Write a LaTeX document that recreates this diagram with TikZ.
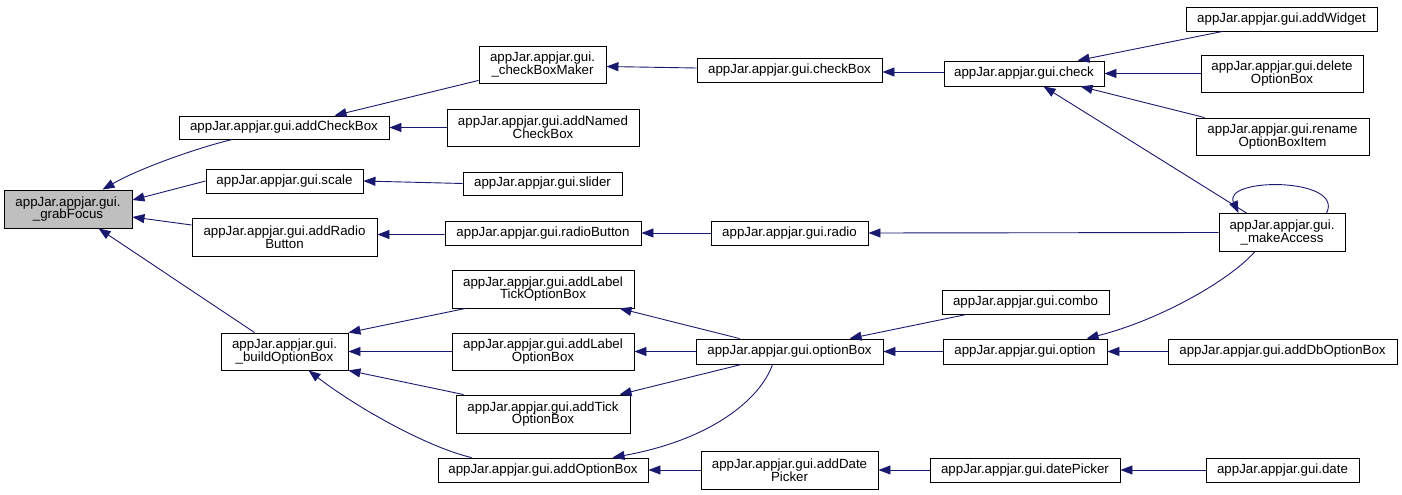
\documentclass[tikz,border=0pt]{standalone}
\usepackage{fontspec}
\setmainfont{Liberation Sans}
\usetikzlibrary{arrows.meta,calc}
\definecolor{edgeblue}{HTML}{191970}
\definecolor{focusgray}{HTML}{BFBFBF}
\begin{document}
\begin{tikzpicture}[x=1bp,y=-1bp,
  fn/.style={draw=black, line width=0.9bp, fill=white, inner sep=0pt, align=center,
    font=\fontsize{13.3bp}{12.6bp}\selectfont},
  call/.style={draw=edgeblue, line width=0.9bp, -{Triangle[length=12bp,width=9bp]}},
]
\useasboundingbox[fill=white] (0,0) rectangle (1402,495);

% function boxes, column by column
\node[fn, fill=focusgray, minimum width=128bp, minimum height=38bp] (grab) at (68,209) {appJar.appjar.gui.\\\_grabFocus};

\node[fn, minimum width=210bp, minimum height=23bp] (addcb) at (284,127.5) {appJar.appjar.gui.addCheckBox};
\node[fn, minimum width=157bp, minimum height=24bp] (scale) at (284.5,181) {appJar.appjar.gui.scale};
\node[fn, minimum width=185bp, minimum height=38bp] (addradio) at (284.5,237) {appJar.appjar.gui.addRadio\\Button};
\node[fn, minimum width=127bp, minimum height=37bp] (build) at (284.5,351.5) {appJar.appjar.gui.\\\_buildOptionBox};

\node[fn, minimum width=127bp, minimum height=37bp] (cbmaker) at (542.5,64.5) {appJar.appjar.gui.\\\_checkBoxMaker};
\node[fn, minimum width=192bp, minimum height=37bp] (namedcb) at (543,127.5) {appJar.appjar.gui.addNamed\\CheckBox};
\node[fn, minimum width=159bp, minimum height=23bp] (slider) at (542.5,183.5) {appJar.appjar.gui.slider};
\node[fn, minimum width=196bp, minimum height=24bp] (radiobtn) at (543,233) {appJar.appjar.gui.radioButton};
\node[fn, minimum width=182bp, minimum height=38bp] (labeltick) at (543,289) {appJar.appjar.gui.addLabel\\TickOptionBox};
\node[fn, minimum width=182bp, minimum height=37bp] (labelopt) at (543,351.5) {appJar.appjar.gui.addLabel\\OptionBox};
\node[fn, minimum width=174bp, minimum height=38bp] (tickopt) at (543,414) {appJar.appjar.gui.addTick\\OptionBox};
\node[fn, minimum width=210bp, minimum height=24bp] (addopt) at (543,470) {appJar.appjar.gui.addOptionBox};

\node[fn, minimum width=185bp, minimum height=24bp] (checkbox) at (789.5,70) {appJar.appjar.gui.checkBox};
\node[fn, minimum width=157bp, minimum height=24bp] (radio) at (789.5,233) {appJar.appjar.gui.radio};
\node[fn, minimum width=187bp, minimum height=25bp] (optbox) at (789.5,351.5) {appJar.appjar.gui.optionBox};
\node[fn, minimum width=177bp, minimum height=38bp] (adddate) at (789.5,470) {appJar.appjar.gui.addDate\\Picker};

\node[fn, minimum width=160bp, minimum height=25bp] (check) at (1024,73.5) {appJar.appjar.gui.check};
\node[fn, minimum width=167bp, minimum height=24bp] (combo) at (1025.5,302) {appJar.appjar.gui.combo};
\node[fn, minimum width=164bp, minimum height=25bp] (option) at (1025,351.5) {appJar.appjar.gui.option};
\node[fn, minimum width=190bp, minimum height=24bp] (datepicker) at (1025,470) {appJar.appjar.gui.datePicker};

\node[fn, minimum width=191bp, minimum height=24bp] (addwidget) at (1281.5,19) {appJar.appjar.gui.addWidget};
\node[fn, minimum width=162bp, minimum height=37bp] (deleteopt) at (1282,73.5) {appJar.appjar.gui.delete\\OptionBox};
\node[fn, minimum width=173bp, minimum height=37bp] (renameopt) at (1282.5,136.5) {appJar.appjar.gui.rename\\OptionBoxItem};
\node[fn, minimum width=126bp, minimum height=38bp] (makeaccess) at (1282,232.5) {appJar.appjar.gui.\\\_makeAccess};
\node[fn, minimum width=229bp, minimum height=25bp] (adddb) at (1282.5,351.5) {appJar.appjar.gui.addDbOptionBox};
\node[fn, minimum width=153bp, minimum height=24bp] (date) at (1282.5,470) {appJar.appjar.gui.date};

% calls into _grabFocus
\draw[call] ($(addcb.south west)+(54,0)$) .. controls (200,147) and (140,168) .. ($(grab.north west)+(99,0)$);
\draw[call] (scale.west) -- ($(grab.east)+(0,-9)$);
\draw[call] ($(addradio.west)+(0,-12)$) -- ($(grab.east)+(0,8)$);
\draw[call] ($(build.north west)+(34,0)$) -- ($(grab.south west)+(95,0)$);

% check box chain
\draw[call] ($(cbmaker.south west)+(0,-3)$) -- ($(addcb.north west)+(156,0)$);
\draw[call] (namedcb.west) -- (addcb.east);
\draw[call] ($(checkbox.west)+(0,-2)$) -- ($(cbmaker.east)+(0,2)$);
\draw[call] ($(check.west)+(0,-1.5)$) -- ($(checkbox.east)+(0,2)$);
\draw[call] ($(addwidget.south west)+(37,0)$) -- ($(check.north west)+(134,0)$);
\draw[call] (deleteopt.west) -- (check.east);
\draw[call] ($(renameopt.north west)+(9,0)$) -- ($(check.south west)+(137,0)$);
\draw[call] ($(makeaccess.north west)+(28,0)$) -- ($(check.south west)+(100,0)$);
\draw[call] ($(makeaccess.north west)+(108,0)$) .. controls +(18,-36) and +(-17,-36) .. ($(makeaccess.north west)+(20,0)$);

% scale and radio chains
\draw[call] (slider.west) -- (scale.east);
\draw[call] ($(radiobtn.west)+(0,1.5)$) -- ($(addradio.east)+(0,-2.5)$);
\draw[call] (radio.west) -- (radiobtn.east);
\draw[call] (makeaccess.west) -- (radio.east);

% option box family
\draw[call] ($(labeltick.south west)+(14,0)$) -- (build.north east);
\draw[call] (labelopt.west) -- (build.east);
\draw[call] ($(tickopt.north west)+(8,0)$) -- (build.south east);
\draw[call] ($(addopt.north west)+(34,0)$) .. controls (430,448) and (360,410) .. ($(build.south west)+(88,0)$);
\draw[call] ($(optbox.north west)+(44,0)$) -- ($(labeltick.south west)+(168,0)$);
\draw[call] (optbox.west) -- (labelopt.east);
\draw[call] ($(optbox.south west)+(46,0)$) -- ($(tickopt.north west)+(164,0)$);
\draw[call] ($(optbox.south west)+(77,0)$) .. controls (760,400) and (710,440) .. ($(addopt.north west)+(175,0)$);
\draw[call] ($(combo.south west)+(25,0)$) -- ($(optbox.north west)+(154,0)$);
\draw[call] (option.west) -- (optbox.east);
\draw[call] ($(makeaccess.south west)+(36,0)$) .. controls (1230,280) and (1160,320) .. ($(option.north west)+(144,0)$);
\draw[call] (adddb.west) -- (option.east);

% date picker chain
\draw[call] (adddate.west) -- (addopt.east);
\draw[call] (datepicker.west) -- (adddate.east);
\draw[call] (date.west) -- (datepicker.east);
\end{tikzpicture}
\end{document}
